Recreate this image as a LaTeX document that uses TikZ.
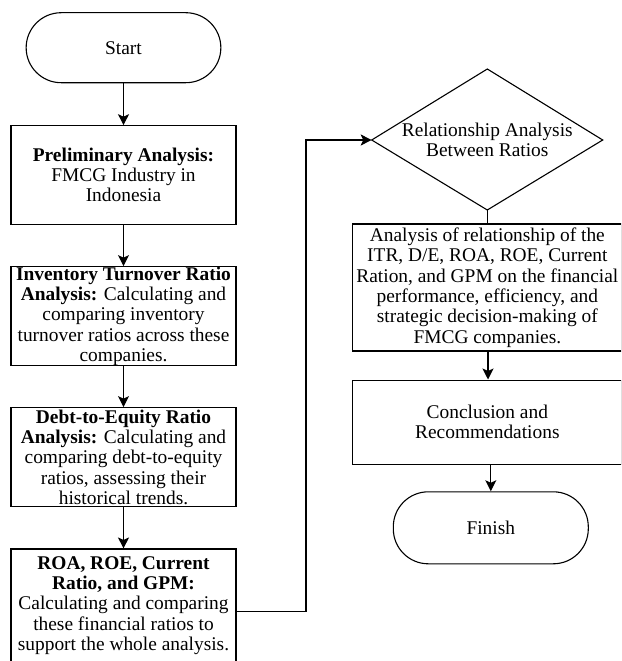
\documentclass[tikz,border=0pt]{standalone}
\usepackage{fontspec}
\setmainfont{Liberation Serif}
\usetikzlibrary{arrows.meta,shapes.geometric,calc}
\begin{document}
\begin{tikzpicture}[x=1pt,y=-1pt,
  base/.style={draw=black,line width=1.1pt,align=center,inner sep=0pt,
    font=\fontsize{19.4}{20.3}\selectfont},
  boxl/.style={base,rectangle,minimum width=225pt},
  boxr/.style={base,rectangle,minimum width=269.3pt},
  term/.style={base,rectangle,rounded corners=35pt},
  outline/.style={draw=black,line width=1.1pt,line join=miter},
  conn/.style={line width=1.1pt,-{Stealth[length=11pt,width=11pt,inset=2.5pt]}},
  plain/.style={line width=1.1pt}]
\useasboundingbox (0,0) rectangle (621,661);
\clip (0,0) rectangle (621,661);
% left column
\node[term,minimum width=194.7pt,minimum height=70pt] (start) at (123.5,47.7) {Start};
\node[boxl,minimum height=98.3pt] (pre) at (123.5,174.9)
  {\textbf{Preliminary Analysis:}\\FMCG Industry in\\Indonesia};
\node[boxl,minimum height=99pt] (itr) at (123.5,316.2)
  {\textbf{Inventory Turnover Ratio}\\\textbf{Analysis:} Calculating and\\comparing inventory\\turnover ratios across these\\companies.};
\node[boxl,minimum height=99pt] (de) at (123.5,457.2)
  {\textbf{Debt-to-Equity Ratio}\\\textbf{Analysis:} Calculating and\\comparing debt-to-equity\\ratios, assessing their\\historical trends.};
\node[boxl,minimum height=113pt] (roa) at (123.5,605.5)
  {\textbf{ROA, ROE, Current}\\\textbf{Ratio, and GPM:}\\Calculating and comparing\\these financial ratios to\\support the whole analysis.};
% right column: decision diamond
\coordinate (dtop) at (487.3,69);
\coordinate (dright) at (602.7,140);
\coordinate (dbot) at (487.3,210);
\coordinate (dleft) at (371.7,140);
\draw[outline] (dtop) -- (dright) -- (dbot) -- (dleft) -- cycle;
\node[base,draw=none] (rel) at (487.3,140) {Relationship Analysis\\Between Ratios};
\node[boxr,minimum height=127pt] (ana) at (487.35,287.5)
  {Analysis of relationship of the\\ITR, D/E, ROA, ROE, Current\\Ration, and GPM on the financial\\performance, efficiency, and\\strategic decision-making of\\FMCG companies.};
\node[boxr,minimum height=84.3pt] (con) at (487.35,422.2) {Conclusion and\\Recommendations};
\node[term,minimum width=195pt,minimum height=72pt] (fin) at (490.8,527.8) {Finish};
\coordinate (bend) at (306,140);
% connectors
\draw[conn] (start) -- (pre);
\draw[conn] (pre) -- (itr);
\draw[conn] (itr) -- (de);
\draw[conn] (de) -- (roa);
\draw[conn] ([yshift=-6pt]roa.east) -| (bend) -- (dleft);
\draw[plain] (dbot) -- (dbot |- ana.north);
\draw[conn] (ana.south -| 488,0) -- (con.north -| 488,0);
\draw[conn] (con.south -| fin.north) -- (fin.north);
\end{tikzpicture}
\end{document}
